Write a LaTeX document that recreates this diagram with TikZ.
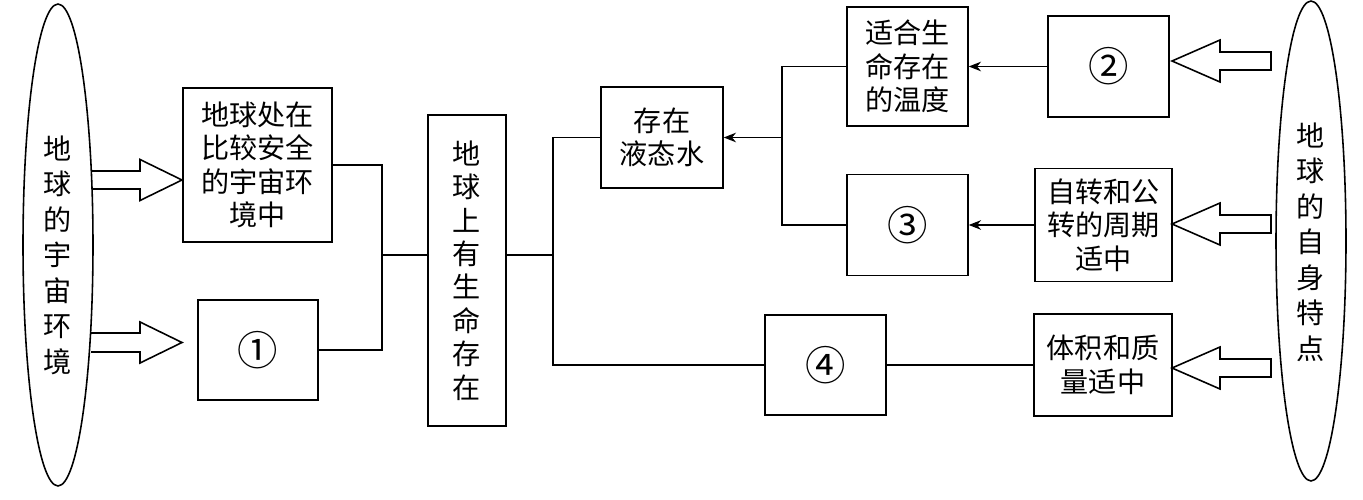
\documentclass[tikz,border=0pt]{standalone}
\usepackage{fontspec}
\setmainfont{Noto Sans CJK SC}
\usetikzlibrary{arrows.meta,shapes.geometric,calc}
\begin{document}
\begin{tikzpicture}[x=0.02cm,y=-0.02cm,
  box/.style={draw,line width=0.9pt,inner sep=0pt,align=center,font=\fontsize{16}{19}\selectfont},
  numbox/.style={box,font=\fontsize{23}{24}\selectfont},
  oval/.style={draw,ellipse,line width=0.9pt,inner sep=0pt},
  vtext/.style={align=center,inner sep=0pt,font=\fontsize{16}{20.2}\selectfont},
  link/.style={line width=0.9pt},
  arr/.style={line width=0.9pt,-{Stealth[length=7pt,width=5.5pt]}},
  hollow/.style={line width=0.9pt,line join=miter}]
\useasboundingbox (0,0) rectangle (1363,500);
% ellipses
\node[oval,minimum width=1.4cm,minimum height=9.64cm] (E1) at (58,245) {};
\node[vtext] (T1) at (58,255) {地\\球\\的\\宇\\宙\\环\\境};
\node[oval,minimum width=1.4cm,minimum height=9.6cm] (E2) at (1311,241) {};
\node[vtext] (T2) at (1311,242) {地\\球\\的\\自\\身\\特\\点};
% boxes
\node[box,minimum width=2.98cm,minimum height=3.08cm] (A) at (257.5,165) {地球处在\\比较安全\\的宇宙环\\境中};
\node[numbox,minimum width=2.4cm,minimum height=2.0cm] (B) at (258,350) {①};
\node[box,minimum width=1.56cm,minimum height=6.22cm] (C) at (467,270.5) {地\\球\\上\\有\\生\\命\\存\\在};
\node[box,minimum width=2.44cm,minimum height=2.02cm] (D) at (662,137.5) {存在\\液态水};
\node[box,minimum width=2.42cm,minimum height=2.38cm] (F) at (907.5,66.5) {适合生\\命存在\\的温度};
\node[numbox,minimum width=2.42cm,minimum height=2.02cm] (G) at (907.5,225) {③};
\node[numbox,minimum width=2.42cm,minimum height=2.0cm] (H) at (825.5,365) {④};
\node[numbox,minimum width=2.42cm,minimum height=2.02cm] (I) at (1108.5,66.5) {②};
\node[box,minimum width=2.74cm,minimum height=2.26cm] (J) at (1103.5,225) {自转和公\\转的周期\\适中};
\node[box,minimum width=2.76cm,minimum height=2.04cm] (K) at (1103,365) {体积和质\\量适中};
% connectors
\coordinate (j1) at (382,255);
\coordinate (j2) at (553,255);
\coordinate (j3) at (782,137.5);
\draw[link] (A.east) -| (j1) |- (B.east);
\draw[link] (j1) -- (j1 -| C.west);
\draw[link] (C.east |- j2) -- (j2);
\draw[link] (D.west) -| (j2) |- (H.west);
\draw[link] (H.east) -- (K.west);
\draw[link] (F.west) -| (j3) |- (G.west);
\draw[arr] (j3) -- (D.east);
\draw[arr] (I.west) -- (F.east);
\draw[arr] (J.west) -- (G.east);
% hollow block arrows (left)
\draw[hollow] (91.5,171) -- (140,171) -- (140,159.5) -- (182,180) -- (140,200.5) -- (140,189) -- (91.5,189);
\draw[hollow] (91,333) -- (140,333) -- (140,322) -- (182,342.5) -- (140,363) -- (140,352) -- (91,352);
% hollow block arrows (right)
\draw[hollow] (1172,61) -- ++(48,-21) -- ++(0,12) -- ++(51,0) -- ++(0,18) -- ++(-51,0) -- ++(0,12) -- cycle;
\draw[hollow] (1172,224) -- ++(48,-21) -- ++(0,12) -- ++(51,0) -- ++(0,18) -- ++(-51,0) -- ++(0,12) -- cycle;
\draw[hollow] (1172,368) -- ++(48,-21) -- ++(0,12) -- ++(51,0) -- ++(0,18) -- ++(-51,0) -- ++(0,12) -- cycle;
\end{tikzpicture}
\end{document}
